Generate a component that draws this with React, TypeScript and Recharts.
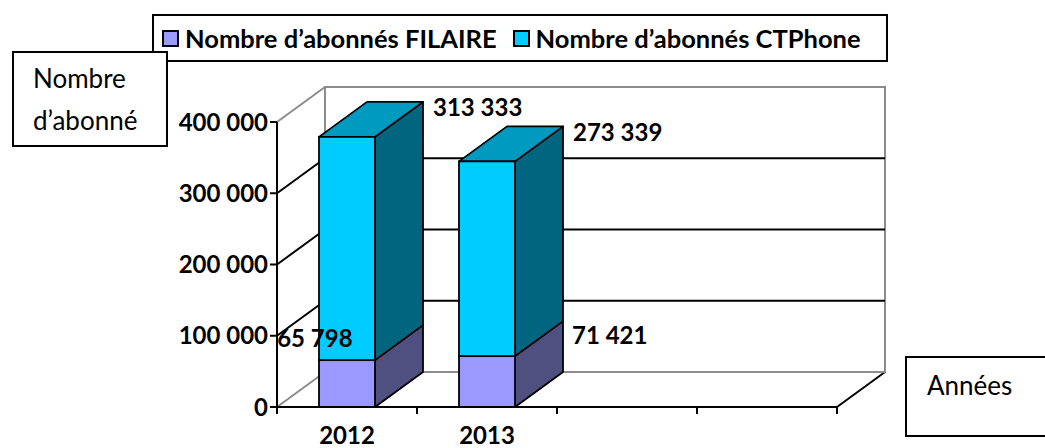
import React from 'react';
import { BarChart, Bar, XAxis, YAxis, CartesianGrid, Legend, LabelList } from 'recharts';

const years = ['2012', '2013', '', ''];
const seriesNames = ['Nombre d’abonnés FILAIRE', 'Nombre d’abonnés CTPhone'];
const filaire = [65798, 71421, null, null];
const ctphone = [313333, 273339, null, null];
const yTicks = [0, 100000, 200000, 300000, 400000];

const data = years.map((year, i) => ({ year, filaire: filaire[i], ctphone: ctphone[i] }));

// fake depth of the 3D look
const DX = 48;
const DY = -35;
const FONT = 'Lato, "Open Sans", sans-serif';

const fmt = (n: number) => String(n).replace(/\B(?=(\d{3})+(?!\d))/g, ' ');

const makeBox = (front: string, side: string, top?: string) => (props: any) => {
  const { x, y, width: w, height: h } = props;
  if (props.value == null || !h) return null;
  const v = Array.isArray(props.value) ? props.value[1] - props.value[0] : props.value;
  if (!v) return null;
  const sidePts = `${x + w},${y + h} ${x + w + DX},${y + h + DY} ${x + w + DX},${y + DY} ${x + w},${y}`;
  const topPts = `${x},${y} ${x + DX},${y + DY} ${x + w + DX},${y + DY} ${x + w},${y}`;
  return (
    <g>
      <polygon points={sidePts} fill={side} stroke="#000" strokeWidth={1.8} strokeLinejoin="round" />
      {top && <polygon points={topPts} fill={top} stroke="#000" strokeWidth={1.8} strokeLinejoin="round" />}
      <rect x={x} y={y} width={w} height={h} fill={front} stroke="#000" strokeWidth={1.8} />
    </g>
  );
};

const backGrid = (props: any) => {
  const { x1, x2, y1, index, key } = props;
  const gy = props.y;
  const gh = props.height;
  const edge = index === 0 || index === yTicks.length - 1;
  const col = edge ? '#8c8c8c' : '#000';
  return (
    <g key={key}>
      {index === 0 && typeof gy === 'number' && (
        <g>
          <rect x={x1 + DX} y={gy + DY} width={x2 - x1} height={gh} fill="none" stroke="#8c8c8c" strokeWidth={2} />
          <line x1={x2} y1={gy + gh} x2={x2 + DX} y2={gy + gh + DY} stroke="#000" strokeWidth={2} />
        </g>
      )}
      <line x1={x1} y1={y1} x2={x1 + DX} y2={y1 + DY} stroke={col} strokeWidth={2} />
      <line x1={x1 + DX} y1={y1 + DY} x2={x2 + DX} y2={y1 + DY} stroke={col} strokeWidth={2} />
    </g>
  );
};

const XTick = (props: any) => {
  const { x, y, payload, index, visibleTicksCount } = props;
  const off = payload.offset || 0;
  const ay = y - 8;
  return (
    <g>
      <line x1={x - off} y1={ay} x2={x - off} y2={ay + 7} stroke="#000" strokeWidth={2} />
      {index === visibleTicksCount - 1 && (
        <line x1={x + off} y1={ay} x2={x + off} y2={ay + 7} stroke="#000" strokeWidth={2} />
      )}
      {payload.value && (
        <text x={x} y={y + 29} textAnchor="middle" fontFamily={FONT} fontWeight="bold" fontSize={24} fill="#000">
          {payload.value}
        </text>
      )}
    </g>
  );
};

const ctLabel = (props: any) => {
  const { x, y, width, value } = props;
  if (value == null) return null;
  return (
    <text x={x + width + DX + 10} y={y + DY + 5} dominantBaseline="central" fontFamily={FONT} fontWeight="bold" fontSize={24} fill="#000">
      {fmt(value)}
    </text>
  );
};

const filLabel = (props: any) => {
  const { x, y, width, value, index } = props;
  if (value == null) return null;
  const left = index === 0;
  return (
    <text
      x={left ? x + width * 0.6 : x + width + DX + 9}
      y={left ? y - 23 : y + DY + 13}
      textAnchor={left ? 'end' : 'start'}
      dominantBaseline="central"
      fontFamily={FONT}
      fontWeight="bold"
      fontSize={24}
      fill="#000"
    >
      {fmt(value)}
    </text>
  );
};

const LegendBox = (props: any) => {
  const items = [...(props.payload || [])].sort(
    (a: any, b: any) => seriesNames.indexOf(a.value) - seriesNames.indexOf(b.value)
  );
  return (
    <div
      style={{
        boxSizing: 'border-box',
        width: 736,
        height: 48,
        border: '2px solid #000',
        background: '#fff',
        display: 'flex',
        alignItems: 'center',
        paddingLeft: 8,
        fontFamily: FONT,
        fontWeight: 'bold',
        fontSize: 25.5,
        color: '#000',
        whiteSpace: 'nowrap',
      }}
    >
      {items.map((it: any) => (
        <span key={it.value} style={{ display: 'flex', alignItems: 'center', marginRight: 16 }}>
          <span style={{ display: 'inline-block', boxSizing: 'border-box', width: 17, height: 17, background: it.color, border: '2px solid #000', marginRight: 6 }} />
          {it.value}
        </span>
      ))}
    </div>
  );
};

const boxStyle: React.CSSProperties = {
  position: 'absolute',
  boxSizing: 'border-box',
  border: '2px solid #000',
  background: '#fff',
  fontFamily: FONT,
  fontSize: 26,
  color: '#000',
  whiteSpace: 'nowrap',
};

export default function App() {
  return (
    <div style={{ position: 'absolute', left: 0, top: 0, width: 1045, height: 448, background: '#fff', overflow: 'hidden' }}>
      <BarChart width={1045} height={448} data={data} barSize={56} margin={{ top: 122, right: 208, bottom: 11, left: 177 }}>
        <CartesianGrid horizontal={backGrid} vertical={false} />
        <XAxis
          dataKey="year"
          height={30}
          interval={0}
          axisLine={{ stroke: '#000', strokeWidth: 2 }}
          tickLine={false}
          tick={<XTick />}
        />
        <YAxis
          width={100}
          domain={[0, 400000]}
          ticks={yTicks}
          interval={0}
          tickFormatter={fmt}
          tickSize={7}
          tickMargin={2}
          axisLine={{ stroke: '#000', strokeWidth: 2 }}
          tickLine={{ stroke: '#000', strokeWidth: 2 }}
          tick={{ fill: '#000', fontSize: 24, fontWeight: 'bold', fontFamily: FONT }}
        />
        <Legend
          layout="horizontal"
          verticalAlign="middle"
          align="center"
          content={<LegendBox />}
          wrapperStyle={{ top: 14, left: 152, width: 736, height: 48 }}
        />
        <Bar dataKey="filaire" name={seriesNames[0]} stackId="a" fill="#9999FF" shape={makeBox('#9999FF', '#4F4F80')} isAnimationActive={false}>
          <LabelList dataKey="filaire" content={filLabel} />
        </Bar>
        <Bar dataKey="ctphone" name={seriesNames[1]} stackId="a" fill="#00CCFF" shape={makeBox('#00CCFF', '#00667F', '#0099BF')} isAnimationActive={false}>
          <LabelList dataKey="ctphone" content={ctLabel} />
        </Bar>
      </BarChart>
      <div style={{ ...boxStyle, left: 12, top: 51, width: 156, height: 96, paddingLeft: 19, lineHeight: '42px', paddingTop: 4 }}>
        Nombre
        <br />
        d’abonné
      </div>
      <div style={{ ...boxStyle, left: 905, top: 356, width: 160, height: 81, paddingLeft: 20, paddingTop: 11 }}>
        Années
      </div>
    </div>
  );
}
